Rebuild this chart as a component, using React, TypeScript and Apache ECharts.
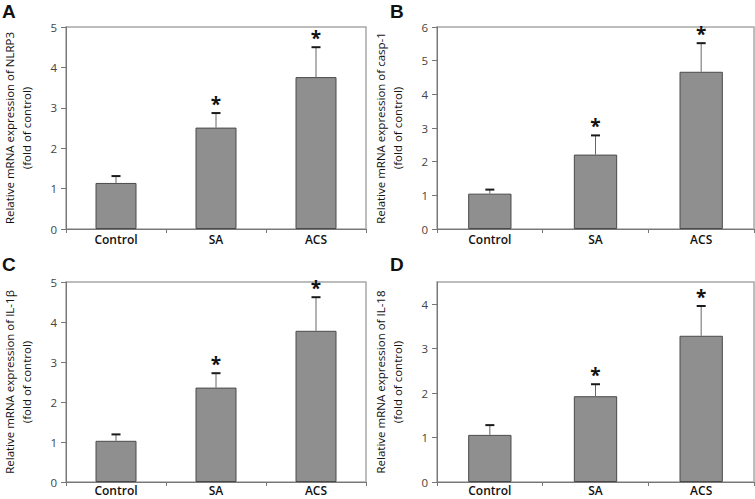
import React, { useEffect, useRef } from "react";
import * as echarts from "echarts";

const categories = ["Control", "SA", "ACS"];
const significant = [false, true, true];

const nlrp3Mean = [1.14, 2.51, 3.76];
const nlrp3Err = [0.17, 0.36, 0.74];
const casp1Mean = [1.05, 2.21, 4.67];
const casp1Err = [0.12, 0.57, 0.85];
const il1bMean = [1.03, 2.36, 3.78];
const il1bErr = [0.16, 0.36, 0.84];
const il18Mean = [1.06, 1.93, 3.29];
const il18Err = [0.22, 0.27, 0.67];

const panelLetters = ["A", "B", "C", "D"];
const genes = ["NLRP3", "casp-1", "IL-1β", "IL-18"];
const yMax = [5, 6, 5, 4.5];
const means = [nlrp3Mean, casp1Mean, il1bMean, il18Mean];
const errs = [nlrp3Err, casp1Err, il1bErr, il18Err];

const FONT = "'Open Sans', 'Noto Sans', sans-serif";
const LETTER_FONT = "'Liberation Sans', Arial, sans-serif";

const grids = [
  { left: 49, top: 27, width: 317, height: 202 },
  { left: 437, top: 27, width: 317, height: 202 },
  { left: 49, top: 282, width: 317, height: 200 },
  { left: 437, top: 282, width: 317, height: 200 },
];
const letterPos = [
  { left: 2, top: 2 },
  { left: 390, top: 2 },
  { left: 2, top: 255 },
  { left: 390, top: 255 },
];

export default function App() {
  const ref = useRef<HTMLDivElement>(null);
  useEffect(() => {
    if (!ref.current) return;
    const chart = echarts.init(ref.current, null, { renderer: "svg" });
    const option: any = {
      animation: false,
      backgroundColor: "#ffffff",
      textStyle: { fontFamily: FONT },
      title: panelLetters.map((l, i) => ({
        text: l,
        left: letterPos[i].left,
        top: letterPos[i].top,
        padding: 0,
        textStyle: {
          fontFamily: LETTER_FONT,
          fontSize: 19,
          lineHeight: 19,
          fontWeight: "bold",
          color: "#111",
        },
      })),
      grid: grids.map((g) => ({
        ...g,
        show: true,
        borderColor: "#a8a8a8",
        borderWidth: 1.5,
        backgroundColor: "transparent",
      })),
      xAxis: grids.map((_, i) => ({
        type: "category",
        gridIndex: i,
        data: categories,
        axisLine: { lineStyle: { color: "#777", width: 1 } },
        axisTick: { show: true, length: 4, inside: false, lineStyle: { color: "#777" } },
        axisLabel: {
          color: "#111",
          fontSize: 12,
          lineHeight: 12,
          fontWeight: 600,
          margin: i < 2 ? 4 : 2,
          fontFamily: FONT,
        },
      })),
      yAxis: grids.map((_, i) => ({
        type: "value",
        gridIndex: i,
        min: 0,
        max: yMax[i],
        interval: 1,
        splitLine: { show: false },
        axisLine: { show: true, lineStyle: { color: "#777", width: 1 } },
        axisTick: { show: true, length: 5, lineStyle: { color: "#777" } },
        axisLabel: {
          color: "#444",
          fontSize: 11.5,
          margin: 9,
          fontFamily: FONT,
          showMaxLabel: yMax[i] % 1 === 0,
        },
        name: "Relative mRNA expression of " + genes[i] + "\n(fold of control)",
        nameLocation: "middle",
        nameRotate: 90,
        nameGap: 31,
        nameTextStyle: { color: "#111", fontSize: 11.5, lineHeight: 17, fontFamily: FONT },
      })),
      series: [
        ...means.map((m, i) => ({
          type: "bar",
          xAxisIndex: i,
          yAxisIndex: i,
          data: m,
          barWidth: "41%",
          itemStyle: { color: "#8f8f8f", borderColor: "#4a4a4a", borderWidth: 1 },
          silent: true,
        })),
        ...means.map((m, i) => ({
          type: "custom",
          xAxisIndex: i,
          yAxisIndex: i,
          data: categories.map((_, k) => [k, m[k], errs[i][k], significant[k] ? 1 : 0]),
          encode: { x: 0, y: 1 },
          z: 5,
          renderItem: (params: any, api: any) => {
            const x = api.value(0);
            const mv = api.value(1);
            const ev = api.value(2);
            const s = api.value(3);
            const base = api.coord([x, mv]);
            const top = api.coord([x, mv + ev]);
            const children: any[] = [
              {
                type: "line",
                shape: { x1: base[0], y1: base[1], x2: top[0], y2: top[1] },
                style: { stroke: "#666", lineWidth: 1 },
              },
              {
                type: "line",
                shape: { x1: top[0] - 4.5, y1: top[1], x2: top[0] + 4.5, y2: top[1] },
                style: { stroke: "#1a1a1a", lineWidth: 2 },
              },
            ];
            if (s) {
              children.push({
                type: "text",
                x: top[0],
                y: top[1] - 9,
                style: {
                  text: "*",
                  fontSize: 19,
                  fontWeight: "bold",
                  fontFamily: FONT,
                  fill: "#111",
                  align: "center",
                  verticalAlign: "middle",
                },
              });
            }
            return { type: "group", children };
          },
        })),
      ],
    };
    chart.setOption(option);
    return () => chart.dispose();
  }, []);
  return (
    <div
      ref={ref}
      style={{ position: "absolute", left: 0, top: 0, width: 755, height: 499 }}
    />
  );
}
